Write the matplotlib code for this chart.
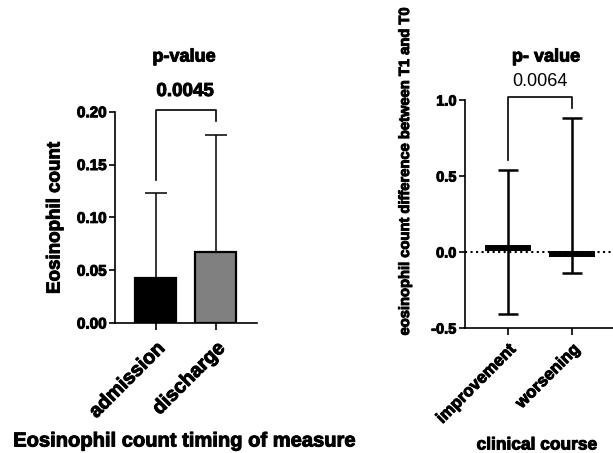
import matplotlib
matplotlib.use("Agg")
import matplotlib.pyplot as plt
import matplotlib.patheffects as pe
import numpy as np

plt.rcParams['font.family'] = ['Liberation Sans', 'DejaVu Sans']

# ---- data ----
timing_labels = ["admission", "discharge"]
eos_mean = [0.043, 0.067]
eos_sd_upper = [0.080, 0.111]
bar_colors = ["#000000", "#808080"]
left_yticks = [0.00, 0.05, 0.10, 0.15, 0.20]
p_left = "0.0045"

course_labels = ["improvement", "worsening"]
diff_mean = [0.027, -0.015]
diff_low = [-0.41, -0.14]
diff_high = [0.54, 0.88]
right_yticks = [-0.5, 0.0, 0.5, 1.0]
p_right = "0.0064"

W, H = 613, 453
fig = plt.figure(figsize=(W / 100, H / 100), dpi=100)
heavy = [pe.withStroke(linewidth=0.7, foreground="black")]


def fx(px):
    return px / W


def fy(py):
    return 1 - py / H


# ---- left panel ----
axL = fig.add_axes([fx(115), fy(323), fx(257) - fx(115), fy(111.7) - fy(323)])
xL = np.arange(len(timing_labels))
axL.bar(xL, eos_mean, width=0.68, color=bar_colors, edgecolor="black",
        linewidth=1.6, zorder=3)
axL.errorbar(xL, eos_mean, yerr=[[0] * len(xL), eos_sd_upper], fmt="none",
             ecolor="black", elinewidth=1.1, capsize=7.9, capthick=1.1, zorder=2)
axL.set_xlim(-0.675, 1.69)
axL.set_ylim(0, 0.20)
axL.set_yticks(left_yticks)
axL.set_yticklabels([f"{v:.2f}" for v in left_yticks], fontsize=11, fontweight="bold")
axL.set_xticks(xL)
axL.set_xticklabels(timing_labels, rotation=45, ha="right", rotation_mode="anchor",
                    fontsize=14.3, fontweight="bold")
for s in ["top", "right"]:
    axL.spines[s].set_visible(False)
for s in ["left", "bottom"]:
    axL.spines[s].set_linewidth(1.2)
axL.tick_params(width=1.2, length=4, pad=2)
axL.tick_params(axis="x", length=5, pad=6)
for t in axL.get_xticklabels() + axL.get_yticklabels():
    t.set_path_effects(heavy)

# bracket
axL.plot([0, 0, 1, 1], [0.135, 0.2016, 0.2016, 0.191], color="black", lw=1.2,
         clip_on=False, zorder=4)
fig.text(fx(184), fy(57), "p-value", ha="center", va="center", fontsize=13,
         fontweight="bold", path_effects=heavy)
fig.text(fx(185), fy(91.5), p_left, ha="center", va="center", fontsize=13.5,
         fontweight="bold", path_effects=heavy)
fig.text(fx(55), fy(218), "Eosinophil count", rotation=90, ha="center",
         va="center", fontsize=13.5, fontweight="bold", path_effects=heavy)
fig.text(fx(184), fy(441), "Eosinophil count timing of measure", ha="center",
         va="center", fontsize=14.5, fontweight="bold", path_effects=heavy)

# ---- right panel ----
axR = fig.add_axes([fx(465), fy(328), 1 - fx(465), fy(100) - fy(328)])
xR = np.arange(len(course_labels))
axR.axhline(0, color="black", ls=":", lw=1.5, zorder=1)
m = np.array(diff_mean)
lo = m - np.array(diff_low)
hi = np.array(diff_high) - m
axR.errorbar(xR, diff_mean, yerr=[lo, hi], fmt="none", ecolor="black",
             elinewidth=1.8, capsize=7.5, capthick=1.8, zorder=3)
axR.plot(xR, diff_mean, ls="none", marker="_", markersize=33,
         markeredgewidth=4.3, color="black", zorder=4)
axR.set_xlim(-0.667, 1.645)
axR.set_ylim(-0.5, 1.0)
axR.set_yticks(right_yticks)
axR.set_yticklabels([f"{v:.1f}" for v in right_yticks], fontsize=10.5,
                    fontweight="bold")
axR.set_xticks(xR)
axR.set_xticklabels(course_labels, rotation=45, ha="right", rotation_mode="anchor",
                    fontsize=12, fontweight="bold")
for s in ["top", "right"]:
    axR.spines[s].set_visible(False)
for s in ["left", "bottom"]:
    axR.spines[s].set_linewidth(1.2)
axR.tick_params(width=1.2, length=4, pad=2)
axR.tick_params(axis="x", length=5, pad=5)
for t in axR.get_xticklabels() + axR.get_yticklabels():
    t.set_path_effects(heavy)

axR.plot([0, 0, 1, 1], [0.605, 1.02, 1.02, 0.95], color="black", lw=1.2,
         clip_on=False, zorder=4)
fig.text(fx(546), fy(57), "p- value", ha="center", va="center", fontsize=13,
         fontweight="bold", path_effects=heavy)
fig.text(fx(540), fy(82), p_right, ha="center", va="center", fontsize=13)
fig.text(fx(405), fy(171), "eosinophil count difference between T1 and T0",
         rotation=90, ha="center", va="center", fontsize=10.6, fontweight="bold",
         path_effects=heavy)
fig.text(fx(537), fy(445), "clinical course", ha="center", va="center",
         fontsize=12.5, fontweight="bold", path_effects=heavy)

fig.savefig("out.png", dpi=100, facecolor="white")
